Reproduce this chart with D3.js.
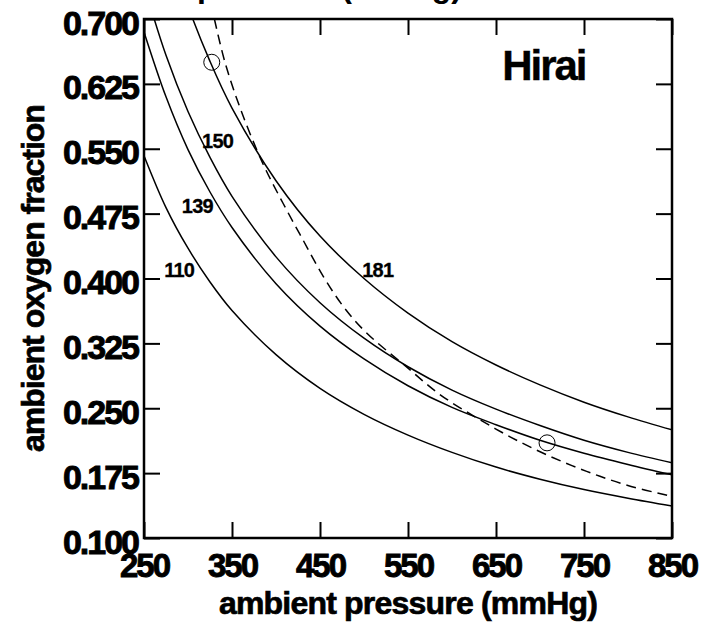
<!DOCTYPE html>
<html>
<head>
<meta charset="utf-8">
<script src="https://cdn.jsdelivr.net/npm/d3@7"></script>
<style>
  body { margin: 0; background: #fff; }
  text { font-family: "Liberation Sans", Arial, sans-serif; font-weight: bold; }
</style>
</head>
<body>
<div id="chart"></div>
<script>
// ambient pressure grid (mmHg) the solid curves were read at
var pressures = [250, 275, 300, 325, 350, 400, 450, 500, 550, 600, 650, 700, 750, 800, 850];

// oxygen fraction, one value per pressure above
var curve110 = [0.542, 0.482, 0.435, 0.396, 0.363, 0.312, 0.273, 0.243, 0.219, 0.199, 0.182, 0.168, 0.156, 0.146, 0.137];
var curve139 = [0.685, 0.610, 0.549, 0.500, 0.459, 0.394, 0.345, 0.307, 0.276, 0.251, 0.231, 0.213, 0.198, 0.185, 0.173];
var curve150 = [0.739, 0.658, 0.593, 0.540, 0.495, 0.425, 0.372, 0.331, 0.298, 0.271, 0.249, 0.230, 0.213, 0.199, 0.187];
var curve181 = [0.892, 0.794, 0.715, 0.651, 0.597, 0.513, 0.449, 0.400, 0.360, 0.327, 0.300, 0.277, 0.257, 0.240, 0.225];

var curveNames = ["110", "139", "150", "181"];
// where each curve's number sits (pressure, fraction)
var labelP = [273, 293, 316, 498];
var labelF = [0.402, 0.476, 0.551, 0.402];

// dashed curve
var dashP = [330, 342, 360, 385, 408, 431, 454, 477, 503, 547, 586, 628, 666, 708, 753, 799, 850];
var dashF = [0.700, 0.650, 0.595, 0.533, 0.487, 0.444, 0.402, 0.367, 0.337, 0.299, 0.266, 0.239, 0.217, 0.196, 0.177, 0.161, 0.148];

// open circles
var circleP = [327, 708];
var circleF = [0.650, 0.210];

var xTicks = [250, 350, 450, 550, 650, 750, 850];
var yTicks = [0.100, 0.175, 0.250, 0.325, 0.400, 0.475, 0.550, 0.625, 0.700];

var margin = {top: 19, right: 49, bottom: 87, left: 144},
    width = 721 - margin.left - margin.right,
    height = 625 - margin.top - margin.bottom;

var x = d3.scaleLinear().domain([250, 850]).range([0, width]);
var y = d3.scaleLinear().domain([0.1, 0.7]).range([height, 0]);

var svg = d3.select("#chart").append("svg")
    .attr("width", 721)
    .attr("height", 625);

// title, mostly cut off above the page
svg.append("text")
    .attr("x", 462)
    .attr("y", -3)
    .attr("text-anchor", "end")
    .attr("font-size", "32px")
    .text("alveolar O2 pressure (mmHg)");

var g = svg.append("g")
    .attr("transform", "translate(" + margin.left + "," + margin.top + ")");

g.append("clipPath").attr("id", "plotclip")
  .append("rect").attr("width", width).attr("height", height);

var line = d3.line()
    .x(function(d) { return x(d[0]); })
    .y(function(d) { return y(d[1]); })
    .curve(d3.curveCatmullRom);

var curves = [curve110, curve139, curve150, curve181];
var plot = g.append("g").attr("clip-path", "url(#plotclip)");

curves.forEach(function(c) {
    plot.append("path")
        .datum(d3.zip(pressures, c))
        .attr("d", line)
        .attr("fill", "none")
        .attr("stroke", "black")
        .attr("stroke-width", 1.5);
});

plot.append("path")
    .datum(d3.zip(dashP, dashF))
    .attr("d", line)
    .attr("fill", "none")
    .attr("stroke", "black")
    .attr("stroke-width", 1.5)
    .attr("stroke-dasharray", "10,6");

g.selectAll(".pt")
    .data(d3.zip(circleP, circleF))
    .enter()
    .append("circle")
    .attr("cx", function(d) { return x(d[0]); })
    .attr("cy", function(d) { return y(d[1]); })
    .attr("r", 8)
    .attr("fill", "none")
    .attr("stroke", "black")
    .attr("stroke-width", 1);

// curve numbers
g.selectAll(".lbl")
    .data(curveNames)
    .enter()
    .append("text")
    .attr("x", function(d, i) { return x(labelP[i]); })
    .attr("y", function(d, i) { return y(labelF[i]); })
    .attr("font-size", "20px")
    .attr("letter-spacing", "-0.8px")
    .attr("stroke", "black")
    .attr("stroke-width", 0.3)
    .text(function(d) { return d; });

g.append("text")
    .attr("x", x(657))
    .attr("y", y(0.629))
    .attr("font-size", "42px")
    .attr("letter-spacing", "-2px")
    .attr("stroke", "black")
    .attr("stroke-width", 0.4)
    .text("Hirai");

// axes: ticks point inward on all four sides
var xAxis = g.append("g")
    .attr("transform", "translate(0," + height + ")")
    .call(d3.axisBottom(x).tickValues(xTicks).tickSize(-16).tickPadding(0));
var yAxis = g.append("g")
    .call(d3.axisLeft(y).tickValues(yTicks).tickSize(-16).tickPadding(6)
        .tickFormat(d3.format(".3f")));
g.append("g")
    .call(d3.axisTop(x).tickValues(xTicks).tickSize(-16).tickFormat(""));
g.append("g")
    .attr("transform", "translate(" + width + ",0)")
    .call(d3.axisRight(y).tickValues(yTicks).tickSize(-16).tickFormat(""));

g.selectAll(".domain").remove();
g.selectAll(".tick line").attr("stroke", "black").attr("stroke-width", 2);

xAxis.selectAll(".tick text")
    .attr("y", 39)
    .attr("dy", 0)
    .attr("font-size", "33px")
    .attr("letter-spacing", "-2px")
    .attr("fill", "black")
    .attr("stroke", "black")
    .attr("stroke-width", 0.9);
yAxis.selectAll(".tick text")
    .attr("dy", 0)
    .attr("y", 15)
    .attr("font-size", "34px")
    .attr("letter-spacing", "-2px")
    .attr("fill", "black")
    .attr("stroke", "black")
    .attr("stroke-width", 0.9);
g.selectAll(".tick text").attr("font-family", null);

// frame
g.append("rect")
    .attr("width", width)
    .attr("height", height)
    .attr("fill", "none")
    .attr("stroke", "black")
    .attr("stroke-width", 2.5);

// axis titles
svg.append("text")
    .attr("x", margin.left + width / 2)
    .attr("y", 614)
    .attr("text-anchor", "middle")
    .attr("font-size", "32px")
    .attr("letter-spacing", "-0.8px")
    .attr("stroke", "black")
    .attr("stroke-width", 0.7)
    .text("ambient pressure (mmHg)");

svg.append("text")
    .attr("transform", "translate(44," + (margin.top + height / 2) + ") rotate(-90)")
    .attr("text-anchor", "middle")
    .attr("font-size", "32px")
    .attr("letter-spacing", "-1px")
    .attr("stroke", "black")
    .attr("stroke-width", 0.7)
    .text("ambient oxygen fraction");
</script>
</body>
</html>
